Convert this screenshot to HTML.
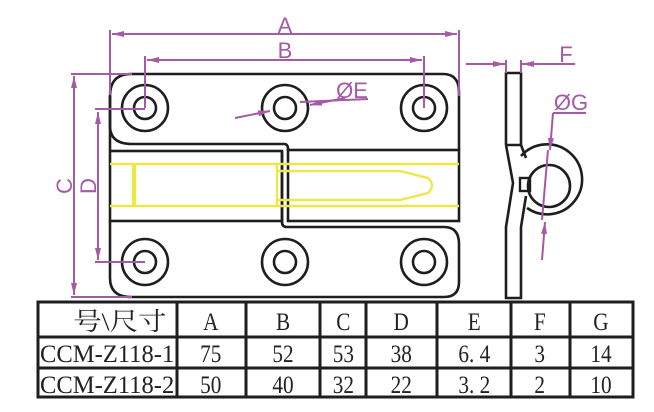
<!DOCTYPE html>
<html><head><style>
html,body{margin:0;padding:0;background:#fff;}
svg{display:block;}
text{font-family:"Liberation Serif","Noto Serif CJK SC",serif;}
</style></head><body>
<svg width="654" height="412" viewBox="0 0 654 412" xmlns="http://www.w3.org/2000/svg">
<defs>
<marker id="ar" markerWidth="12" markerHeight="6" refX="12" refY="3" orient="auto" markerUnits="userSpaceOnUse"><path d="M0,0 L12,3 L0,6 Z" fill="#a45aa4"/></marker>
<marker id="as" markerWidth="12" markerHeight="6" refX="0" refY="3" orient="auto" markerUnits="userSpaceOnUse"><path d="M12,0 L0,3 L12,6 Z" fill="#a45aa4"/></marker>
</defs>
<g fill="none" stroke="#1e1e1e" stroke-width="2.6">
<path d="M131,74 H443 Q459,74 459,92 V150"/>
<path d="M110,150 V96 Q110,74 131,74"/>
<path d="M110,96 V126 Q110,144 132,144 H284 Q288,144 288,149 V151"/>
<rect x="110" y="151" width="172" height="70"/>
<rect x="288" y="150" width="171" height="71"/>
<path d="M282,151 V222 Q282,227 287,227 H444 Q459,227 459,244 V282 Q459,297 444,297 H131 Q110,297 110,278 V221"/>
<circle cx="145" cy="108" r="23"/><circle cx="145" cy="108" r="11"/>
<circle cx="285" cy="108" r="23"/><circle cx="285" cy="108" r="11"/>
<circle cx="424" cy="108" r="23"/><circle cx="424" cy="108" r="11"/>
<circle cx="145" cy="262" r="23"/><circle cx="145" cy="262" r="11"/>
<circle cx="285" cy="262" r="23"/><circle cx="285" cy="262" r="11"/>
<circle cx="424" cy="262" r="23"/><circle cx="424" cy="262" r="11"/>
<path d="M506,145 V73 H521 V145 H506"/>
<path d="M506,145 L513,183 L506,227 V298 H521 V227 L526,196"/>
<path d="M521,145 L526,158"/>
<path d="M521,156 A35,35 0 1 1 527,208" />
<circle cx="549" cy="186" r="21"/>
<rect x="520" y="178" width="10" height="13" stroke-width="2.4"/>
</g>
<g fill="none" stroke="#ebe84a" stroke-width="2.4">
<line x1="110" y1="164" x2="459" y2="164"/>
<line x1="110" y1="206" x2="459" y2="206"/>
<line x1="134" y1="164" x2="134" y2="206" stroke-width="4.5"/>
<line x1="277" y1="164" x2="277" y2="206"/>
<path d="M278,171 H400 L428,178 Q436,185 428,193 L400,200 H278"/>
</g>
<g stroke="#a45aa4" stroke-width="2" fill="none">
<line x1="110" y1="30" x2="110" y2="95"/>
<line x1="459" y1="30" x2="459" y2="96"/>
<line x1="112" y1="34" x2="457" y2="34" marker-start="url(#as)" marker-end="url(#ar)"/>
<line x1="145" y1="56" x2="145" y2="108"/>
<line x1="424" y1="56" x2="424" y2="108"/>
<line x1="147" y1="60" x2="422" y2="60" marker-start="url(#as)" marker-end="url(#ar)"/>
<line x1="71" y1="74" x2="132" y2="74"/>
<line x1="71" y1="297" x2="132" y2="297"/>
<line x1="74" y1="76" x2="74" y2="295" marker-start="url(#as)" marker-end="url(#ar)"/>
<line x1="95" y1="109" x2="145" y2="109"/>
<line x1="95" y1="262" x2="145" y2="262"/>
<line x1="98" y1="112" x2="98" y2="260" marker-start="url(#as)" marker-end="url(#ar)"/>
<line x1="235" y1="118" x2="270" y2="111" marker-end="url(#ar)"/>
<line x1="345" y1="98" x2="310" y2="105" marker-end="url(#ar)"/>
<line x1="300" y1="102" x2="368" y2="99"/>
<line x1="466" y1="64" x2="505" y2="64" marker-end="url(#ar)"/>
<line x1="575" y1="64" x2="522" y2="64" marker-end="url(#ar)"/>
<line x1="506" y1="60" x2="506" y2="73"/>
<line x1="521" y1="60" x2="521" y2="73"/>
<line x1="553" y1="113" x2="586" y2="113"/>
<line x1="553" y1="113" x2="550" y2="150" marker-end="url(#ar)"/>
<line x1="548" y1="150" x2="542" y2="220"/>
<line x1="542" y1="260" x2="545" y2="222" marker-end="url(#ar)"/>
</g>
<g fill="#a45aa4" font-size="22">
<text x="285" y="33" text-anchor="middle" style="font-family:'Liberation Sans',sans-serif">A</text>
<text x="285" y="58" text-anchor="middle" style="font-family:'Liberation Sans',sans-serif">B</text>
<text x="352" y="98" text-anchor="middle" style="font-family:'Liberation Sans',sans-serif">ØE</text>
<text x="566" y="62" text-anchor="middle" style="font-family:'Liberation Sans',sans-serif">F</text>
<text x="571" y="110" text-anchor="middle" style="font-family:'Liberation Sans',sans-serif">ØG</text>
<text transform="translate(72,186) rotate(-90)" text-anchor="middle" style="font-family:'Liberation Sans',sans-serif">C</text>
<text transform="translate(96,186) rotate(-90)" text-anchor="middle" style="font-family:'Liberation Sans',sans-serif">D</text>
</g>
<g stroke="#1e1e1e" stroke-width="3" fill="none">
<rect x="38" y="302" width="595" height="95"/>
<line x1="38" y1="337" x2="633" y2="337"/>
<line x1="38" y1="368" x2="633" y2="368"/>
<line x1="177" y1="302" x2="177" y2="397"/>
<line x1="246" y1="302" x2="246" y2="397"/>
<line x1="320" y1="302" x2="320" y2="397"/>
<line x1="366" y1="302" x2="366" y2="397"/>
<line x1="437" y1="302" x2="437" y2="397"/>
<line x1="511" y1="302" x2="511" y2="397"/>
<line x1="570" y1="302" x2="570" y2="397"/>
</g>
<g fill="#222" font-size="25" text-anchor="middle" transform="scale(0.85,1)">
<text x="141" y="330" textLength="110" lengthAdjust="spacingAndGlyphs">号\尺寸</text>
<text x="248" y="330">A</text><text x="333" y="330">B</text><text x="404" y="330">C</text><text x="472" y="330">D</text><text x="558" y="330">E</text><text x="635" y="330">F</text><text x="707" y="330">G</text>
<text x="126" y="362" textLength="158" lengthAdjust="spacingAndGlyphs">CCM-Z118-1</text>
<text x="248" y="362">75</text><text x="333" y="362">52</text><text x="404" y="362">53</text><text x="472" y="362">38</text><text x="558" y="362">6. 4</text><text x="635" y="362">3</text><text x="707" y="362">14</text>
<text x="126" y="393" textLength="158" lengthAdjust="spacingAndGlyphs">CCM-Z118-2</text>
<text x="248" y="393">50</text><text x="333" y="393">40</text><text x="404" y="393">32</text><text x="472" y="393">22</text><text x="558" y="393">3. 2</text><text x="635" y="393">2</text><text x="707" y="393">10</text>
</g>
</svg>
</body></html>
